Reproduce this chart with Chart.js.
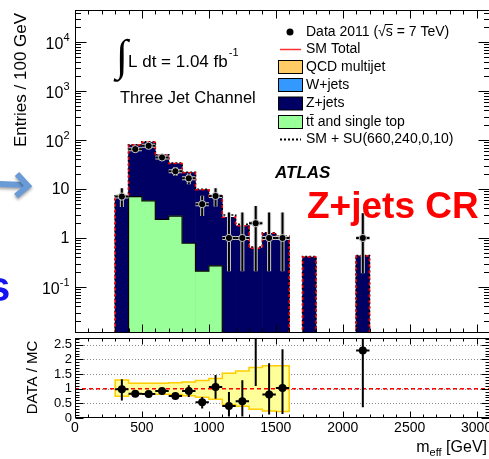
<!DOCTYPE html>
<html>
<head>
<meta charset="utf-8">
<title>Z+jets CR - m_eff</title>
<script src="https://cdn.jsdelivr.net/npm/chart.js@4.4.1/dist/chart.umd.min.js"></script>
<style>
  html, body { margin: 0; padding: 0; background: #fff; }
  #wrap { position: relative; width: 489px; height: 459px; overflow: hidden; }
  #wrap canvas { position: absolute; left: 0; top: 0; }
</style>
</head>
<body>
<div id="wrap">
  <canvas id="mainChart" width="495" height="459"></canvas>
  <canvas id="ratioChart" width="495" height="459"></canvas>
</div>
<script>
// 100 GeV bins, low edges
const binLow = [300, 400, 500, 600, 700, 800, 900, 1000, 1100, 1200, 1300, 1400, 1500, 1600, 1700, 1800, 1900, 2000, 2100];
const binWidth = 100;

// MC stack (Z+jets on top of ttbar)
const smTotal = [7.2, 79, 90, 49, 33, 21.5, 9.6, 7.2, 2.65, 1.78, 0.62, 1.25, 1.06, 0, 0.41, 0, 0, 0, 0.43];
const smSusy  = [7.3, 80, 92, 50, 34, 22, 9.9, 7.5, 2.95, 1.9, 0.65, 1.28, 1.08, 0, 0.42, 0, 0, 0, 0.44];
const ttbar   = [0, 7.0, 5.7, 2.4, 2.8, 0.78, 0.21, 0.27, 0, 0, 0, 0, 0, 0, 0, 0, 0, 0, 0];

// data 2011
const dataX  = [350, 450, 550, 650, 750, 850, 950, 1050, 1150, 1250, 1350, 1450, 1550, 2150];
const dataY  = [7, 65, 76, 44, 23, 16.5, 4.9, 7.2, 1, 1, 2, 1, 1, 1];
const dataLo = [4.3, 57, 68, 37.5, 18.5, 12.5, 2.8, 4.4, 0.21, 0.21, 0.21, 0.21, 0.21, 0.19];
const dataHi = [10.4, 73, 85, 51, 28, 21, 7.3, 10.4, 3.3, 3.3, 4.5, 3.3, 3.3, 3.2];

// ratio panel
const bandUp = [1.30, 1.19, 1.19, 1.19, 1.20, 1.23, 1.28, 1.35, 1.53, 1.60, 1.72, 1.78, 1.78];
const bandDn = [0.74, 0.81, 0.81, 0.81, 0.80, 0.76, 0.71, 0.64, 0.46, 0.40, 0.30, 0.24, 0.22];
const ratioY  = [0.98, 0.83, 0.82, 0.92, 0.75, 0.92, 0.54, 1.06, 0.41, 0.57, 3.2, 0.80, 1.02, 2.3];
const ratioLo = [0.60, 0.73, 0.73, 0.83, 0.66, 0.72, 0.32, 0.66, 0.05, 0.05, 1.09, 0.12, 0.14, 0.37];
const ratioHi = [1.32, 0.93, 0.91, 1.01, 0.84, 1.12, 0.72, 1.47, 0.89, 1.29, 5, 1.87, 2.35, 3.5];

// ticks
const logLabels = [0.1, 1, 10, 100, 1000, 10000];
const ratioLabels = [0, 0.5, 1, 1.5, 2, 2.5];
const ratioGrid = [0.5, 1, 1.5, 2, 2.5];
const xLabels = [0, 500, 1000, 1500, 2000, 2500, 3000];

const X_MAX = 3100, Y_MIN = 0.0115, Y_MAX = 45000, R_MAX = 2.73;
const FLOOR = Y_MIN / 3;
const FONT = '"Liberation Sans", Arial, Helvetica, sans-serif';
const NAVY = '#000064', GREEN = '#99ff99', RED = '#ff0000', ORANGE = '#ffcc66', WBLUE = '#3399ff';

function histPoints(lows, vals, floor) {
  const pts = [{ x: lows[0], y: floor }];
  lows.forEach((x, i) => pts.push({ x: x, y: vals[i] > 0 ? vals[i] : floor }));
  pts.push({ x: lows[lows.length - 1] + binWidth, y: floor });
  return pts;
}

function barData(vals) {
  return binLow.map((x, i) => ({ x: x + binWidth / 2, y: vals[i] })).filter(p => p.y > 0);
}

function seg(ctx, x1, y1, x2, y2) {
  ctx.beginPath(); ctx.moveTo(x1, y1); ctx.lineTo(x2, y2); ctx.stroke();
}

function drawLegend(ctx) {
  const rows = [
    { kind: 'dot', label: 'Data 2011 (\u221As = 7 TeV)', y: 32 },
    { kind: 'line', label: 'SM Total', y: 49.5 },
    { kind: 'box', color: ORANGE, label: 'QCD multijet', y: 67 },
    { kind: 'box', color: WBLUE, label: 'W+jets', y: 85 },
    { kind: 'box', color: NAVY, label: 'Z+jets', y: 103.5 },
    { kind: 'box', color: GREEN, label: 't\u0074\u0304 and single top', y: 122 },
    { kind: 'dots', label: 'SM + SU(660,240,0,10)', y: 139.5 }
  ];
  ctx.font = '14px ' + FONT;
  ctx.textBaseline = 'middle';
  ctx.textAlign = 'left';
  rows.forEach(r => {
    ctx.setLineDash([]);
    if (r.kind === 'dot') {
      ctx.fillStyle = '#000';
      ctx.beginPath(); ctx.arc(290, r.y, 3.5, 0, Math.PI * 2); ctx.fill();
    } else if (r.kind === 'line') {
      ctx.strokeStyle = '#ff3030'; ctx.lineWidth = 1.5;
      seg(ctx, 280, r.y, 301, r.y);
    } else if (r.kind === 'box') {
      ctx.fillStyle = r.color;
      ctx.fillRect(278.5, r.y - 6.5, 24, 13);
      ctx.strokeStyle = '#000'; ctx.lineWidth = 1;
      ctx.strokeRect(278.5, r.y - 6.5, 24, 13);
    } else {
      ctx.strokeStyle = '#000'; ctx.lineWidth = 2; ctx.setLineDash([2, 2]);
      seg(ctx, 280, r.y, 301, r.y);
      ctx.setLineDash([]);
    }
    ctx.fillStyle = '#000';
    ctx.fillText(r.label, 306, r.y);
  });
  // overline of sqrt(s)
  const pre = ctx.measureText('Data 2011 (\u221A').width;
  const sw = ctx.measureText('s').width;
  ctx.strokeStyle = '#000'; ctx.lineWidth = 1;
  seg(ctx, 306 + pre - 1, 24.5, 306 + pre + sw, 24.5);
}

function drawAnnotations(ctx) {
  ctx.fillStyle = '#000';
  ctx.textAlign = 'left';
  ctx.textBaseline = 'alphabetic';
  ctx.font = '44px "Liberation Serif", "DejaVu Serif", serif';
  ctx.fillText('\u222B', 116, 70);
  ctx.font = '17px ' + FONT;
  ctx.fillText('L dt = 1.04 fb', 128, 67);
  const w = ctx.measureText('L dt = 1.04 fb').width;
  ctx.font = '11px ' + FONT;
  ctx.fillText('-1', 128 + w + 1, 56);
  ctx.font = '16.5px ' + FONT;
  ctx.fillText('Three Jet Channel', 120, 103);

  drawLegend(ctx);

  ctx.textBaseline = 'alphabetic';
  ctx.fillStyle = '#000';
  ctx.font = 'italic bold 17px ' + FONT;
  ctx.fillText('ATLAS', 275, 178);
  ctx.fillStyle = RED;
  ctx.font = 'bold 37px ' + FONT;
  ctx.fillText('Z+jets CR', 307, 218);

  // y title
  ctx.save();
  ctx.fillStyle = '#000';
  ctx.font = '17px ' + FONT;
  ctx.translate(26, 80);
  ctx.rotate(-Math.PI / 2);
  ctx.textAlign = 'center';
  ctx.fillText('Entries / 100 GeV', 0, 0);
  ctx.restore();

  // slide leftovers: arrow and letter
  ctx.save();
  ctx.shadowColor = 'rgba(0,0,0,0.35)';
  ctx.shadowBlur = 3; ctx.shadowOffsetY = 2;
  ctx.strokeStyle = '#6a9bd6'; ctx.lineWidth = 6; ctx.lineJoin = 'miter'; ctx.lineCap = 'butt';
  ctx.beginPath(); ctx.moveTo(-2, 184); ctx.lineTo(25, 185); ctx.stroke();
  ctx.beginPath(); ctx.moveTo(17, 174); ctx.lineTo(28, 186); ctx.lineTo(16, 196); ctx.stroke();
  ctx.restore();
  ctx.fillStyle = '#1414f0';
  ctx.font = 'bold 42px ' + FONT;
  ctx.fillText('s', -13, 301);
}

const rootPad = {
  id: 'rootPad',
  beforeDatasetsDraw(chart, args, opts) {
    if (opts.panel !== 'ratio') return;
    const { ctx, chartArea: a } = chart;
    const ys = chart.scales.y;
    ctx.save();
    ctx.strokeStyle = '#8a8a8a'; ctx.lineWidth = 1; ctx.setLineDash([1, 2]);
    ratioGrid.forEach(v => {
      const py = Math.round(ys.getPixelForValue(v)) + 0.5;
      seg(ctx, a.left, py, a.right, py);
    });
    ctx.restore();
  },
  beforeDatasetDraw(chart, args) {
    const ds = chart.data.datasets[args.index];
    if (!ds.errLo) return;
    const { ctx, chartArea: a } = chart;
    const xs = chart.scales.x, ys = chart.scales.y;
    ctx.save();
    ctx.beginPath(); ctx.rect(a.left, a.top, a.right - a.left, a.bottom - a.top); ctx.clip();
    const passes = ds.halo ? [[ds.halo, 4], ['#000', 2]] : [['#000', 2]];
    passes.forEach(([col, w]) => {
      ctx.strokeStyle = col; ctx.lineWidth = w;
      ds.data.forEach((p, i) => {
        const x = xs.getPixelForValue(p.x), y = ys.getPixelForValue(p.y);
        ctx.beginPath();
        ctx.moveTo(x, ys.getPixelForValue(ds.errLo[i]));
        ctx.lineTo(x, ys.getPixelForValue(ds.errHi[i]));
        ctx.moveTo(xs.getPixelForValue(p.x - binWidth / 2), y);
        ctx.lineTo(xs.getPixelForValue(p.x + binWidth / 2), y);
        ctx.stroke();
      });
    });
    ctx.restore();
  },
  afterDraw(chart, args, opts) {
    const { ctx, chartArea: a } = chart;
    const xs = chart.scales.x, ys = chart.scales.y;
    const main = opts.panel === 'main';
    ctx.save();
    ctx.strokeStyle = '#000'; ctx.lineWidth = 1; ctx.setLineDash([]);
    const top = Math.round(a.top) + 0.5, bottom = Math.round(a.bottom) - 0.5;
    const left = Math.round(a.left) + 0.5, right = Math.round(a.right) - 0.5;

    const xMaj = main ? 8 : 6, xMin = main ? 4 : 3;
    for (let v = 0; v <= X_MAX; v += 100) {
      const x = Math.round(xs.getPixelForValue(v)) + 0.5;
      const len = v % 500 === 0 ? xMaj : xMin;
      seg(ctx, x, bottom, x, bottom - len);
      seg(ctx, x, top, x, top + len);
    }
    if (main) {
      for (let e = -2; e <= 4; e++) {
        for (let m = 1; m <= 9; m++) {
          const v = m * Math.pow(10, e);
          if (v < Y_MIN || v > Y_MAX) continue;
          const y = Math.round(ys.getPixelForValue(v)) + 0.5;
          const len = m === 1 ? 11 : 5.5;
          seg(ctx, left, y, left + len, y);
          seg(ctx, right, y, right - len, y);
        }
      }
    } else {
      for (let k = 0; k <= 27; k++) {
        const y = Math.round(ys.getPixelForValue(k / 10)) + 0.5;
        const len = k % 5 === 0 ? 8 : 4;
        seg(ctx, left, y, left + len, y);
        seg(ctx, right, y, right - len, y);
      }
    }
    ctx.strokeRect(left, top, right - left, bottom - top);

    ctx.fillStyle = '#000';
    if (main) {
      ctx.textBaseline = 'middle';
      logLabels.forEach(v => {
        const y = ys.getPixelForValue(v);
        const ex = Math.round(Math.log10(v));
        ctx.textAlign = 'left';
        if (ex === 0 || ex === 1) {
          ctx.font = '16px ' + FONT;
          const t = String(v);
          ctx.fillText(t, 69.5 - ctx.measureText(t).width, y + 1);
        } else {
          ctx.font = '11px ' + FONT;
          const es = String(ex);
          const ew = ctx.measureText(es).width;
          ctx.fillText(es, 69.5 - ew, y - 4);
          ctx.font = '16px ' + FONT;
          const bw = ctx.measureText('10').width;
          ctx.fillText('10', 69.5 - ew - bw, y + 3);
        }
      });
      drawAnnotations(ctx);
    } else {
      ctx.font = '13px ' + FONT;
      ctx.textAlign = 'right';
      ctx.textBaseline = 'middle';
      ratioLabels.forEach(v => ctx.fillText(String(v), 72, ys.getPixelForValue(v)));
      ctx.font = '14px ' + FONT;
      ctx.textAlign = 'center';
      xLabels.forEach(v => ctx.fillText(String(v), xs.getPixelForValue(v), 428));

      ctx.save();
      ctx.font = '15px ' + FONT;
      ctx.translate(37, 377.5);
      ctx.rotate(-Math.PI / 2);
      ctx.textAlign = 'center';
      ctx.textBaseline = 'alphabetic';
      ctx.fillText('DATA / MC', 0, 0);
      ctx.restore();

      // m_eff [GeV]
      ctx.textAlign = 'left';
      ctx.textBaseline = 'alphabetic';
      ctx.font = '16px ' + FONT;
      const wm = ctx.measureText('m').width;
      const wg = ctx.measureText(' [GeV]').width;
      ctx.font = '11px ' + FONT;
      const we = ctx.measureText('eff').width;
      let x0 = 487 - wg - we - wm;
      ctx.font = '16px ' + FONT;
      ctx.fillText('m', x0, 452);
      ctx.font = '11px ' + FONT;
      ctx.fillText('eff', x0 + wm, 456);
      ctx.font = '16px ' + FONT;
      ctx.fillText(' [GeV]', x0 + wm + we, 452);
    }
    ctx.restore();
  }
};

const common = {
  responsive: false,
  animation: false,
  devicePixelRatio: 1,
  events: [],
  plugins: { legend: { display: false }, tooltip: { enabled: false } }
};

new Chart(document.getElementById('mainChart'), {
  type: 'scatter',
  data: {
    datasets: [
      {
        type: 'scatter', label: 'Data 2011', order: 0,
        data: dataX.map((x, i) => ({ x: x, y: dataY[i] })),
        errLo: dataLo, errHi: dataHi, halo: '#c8c8c8',
        pointRadius: 3.6, backgroundColor: '#000', borderColor: '#c8c8c8', borderWidth: 1
      },
      {
        type: 'line', label: 'SM Total', order: 1,
        data: histPoints(binLow, smTotal, FLOOR), stepped: 'before',
        borderColor: RED, borderWidth: 1.5, borderDash: [3, 3], pointRadius: 0, fill: false
      },
      {
        type: 'line', label: 'SM + SU(660,240,0,10)', order: 2,
        data: histPoints(binLow, smSusy, FLOOR), stepped: 'before',
        borderColor: '#000', borderWidth: 1.6, borderDash: [2, 2], pointRadius: 0, fill: false
      },
      {
        type: 'line', label: 'tt outline', order: 3,
        data: histPoints(binLow, ttbar, FLOOR), stepped: 'before',
        borderColor: '#000', borderWidth: 1.2, pointRadius: 0, fill: false
      },
      {
        type: 'bar', label: 'ttbar and single top', order: 4,
        data: barData(ttbar), backgroundColor: GREEN, borderWidth: 0,
        barPercentage: 1, categoryPercentage: 1, grouped: false
      },
      {
        type: 'bar', label: 'Z+jets', order: 5,
        data: barData(smTotal), backgroundColor: NAVY, borderWidth: 0,
        barPercentage: 1, categoryPercentage: 1, grouped: false
      }
    ]
  },
  options: Object.assign({}, common, {
    layout: { padding: { left: 75, top: 10, right: 5, bottom: 126 } },
    scales: {
      x: { type: 'linear', min: 0, max: X_MAX, display: false, offset: false, bounds: 'data' },
      y: { type: 'logarithmic', min: Y_MIN, max: Y_MAX, display: false, bounds: 'data', beginAtZero: false }
    },
    plugins: Object.assign({}, common.plugins, { rootPad: { panel: 'main' } })
  }),
  plugins: [rootPad]
});

const bandLow = binLow.slice(0, bandUp.length);

new Chart(document.getElementById('ratioChart'), {
  type: 'scatter',
  data: {
    datasets: [
      {
        type: 'scatter', label: 'Data / MC', order: 0,
        data: dataX.map((x, i) => ({ x: x, y: ratioY[i] })),
        errLo: ratioLo, errHi: ratioHi,
        pointRadius: 4, backgroundColor: '#000', borderColor: '#000', borderWidth: 0
      },
      {
        type: 'line', label: 'unity', order: 1,
        data: [{ x: 0, y: 1 }, { x: X_MAX, y: 1 }],
        borderColor: RED, borderWidth: 1.5, borderDash: [4, 3], pointRadius: 0, fill: false
      },
      {
        type: 'line', label: 'band up', order: 2,
        data: histPoints(bandLow, bandUp, 1), stepped: 'before',
        borderColor: '#ffcc00', borderWidth: 1.5, pointRadius: 0, fill: false
      },
      {
        type: 'line', label: 'band down', order: 2,
        data: histPoints(bandLow, bandDn, 1), stepped: 'before',
        borderColor: '#ffcc00', borderWidth: 1.5, pointRadius: 0, fill: false
      },
      {
        type: 'bar', label: 'MC uncertainty', order: 3,
        data: bandLow.map((x, i) => ({ x: x + binWidth / 2, y: [bandDn[i], bandUp[i]] })),
        backgroundColor: '#ffff99', borderWidth: 0,
        barPercentage: 1, categoryPercentage: 1, grouped: false
      }
    ]
  },
  options: Object.assign({}, common, {
    layout: { padding: { left: 75, top: 338, right: 5, bottom: 41 } },
    scales: {
      x: { type: 'linear', min: 0, max: X_MAX, display: false, offset: false, bounds: 'data' },
      y: { type: 'linear', min: 0, max: R_MAX, display: false, bounds: 'data', beginAtZero: false }
    },
    plugins: Object.assign({}, common.plugins, { rootPad: { panel: 'ratio' } })
  }),
  plugins: [rootPad]
});
</script>
</body>
</html>
